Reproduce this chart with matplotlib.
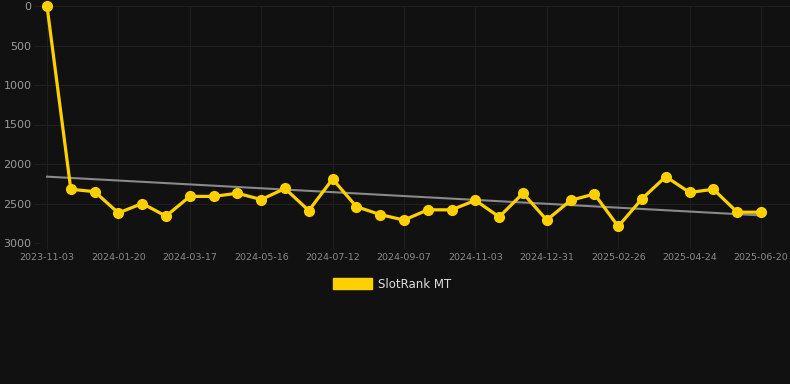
import numpy as np
import matplotlib
matplotlib.use("Agg")
import matplotlib.pyplot as plt

# rank values, one per snapshot (lower is better, axis reversed)
ranks = [0, 2320, 2350, 2620, 2500, 2660, 2410, 2410, 2370, 2450,
         2310, 2590, 2190, 2540, 2640, 2710, 2580, 2580, 2460, 2670,
         2370, 2710, 2460, 2380, 2790, 2440, 2160, 2360, 2320, 2610,
         2610]
tick_labels = ["2023-11-03", "2024-01-20", "2024-03-17", "2024-05-16",
               "2024-07-12", "2024-09-07", "2024-11-03", "2024-12-31",
               "2025-02-26", "2025-04-24", "2025-06-20"]
series_name = "SlotRank MT"

bg = "#111111"
yellow = "#ffd000"

x = np.arange(len(ranks))
coef = np.polyfit(x, ranks, 1)
trend = np.polyval(coef, x)

fig = plt.figure(figsize=(7.9, 3.84), dpi=100, facecolor=bg)
ax = fig.add_axes([40 / 790, 1 - 243 / 384, 750 / 790, 237 / 384])
ax.set_facecolor(bg)

ax.plot(x, trend, color="#8a8a8a", lw=1.5, zorder=2)
ax.plot(x, ranks, color=yellow, lw=2.3, marker="o", ms=7,
        clip_on=False, zorder=3, label=series_name)

ax.set_xlim(-7 / 23.8, 30 + 29 / 23.8)
ax.set_ylim(3000, 0)
ax.set_yticks([0, 500, 1000, 1500, 2000, 2500, 3000])
ax.set_xticks(x[::3])
ax.set_xticklabels(tick_labels)

ax.grid(True, color="#1f1f1f", lw=0.8)
for s in ax.spines.values():
    s.set_visible(False)
ax.tick_params(axis="y", colors="#9a9a9a", labelsize=8, length=4,
               color="#1f1f1f", pad=2)
ax.tick_params(axis="x", colors="#8a8a8a", labelsize=6.8, length=4,
               color="#1f1f1f", pad=3)

leg = fig.legend(handles=[plt.Rectangle((0, 0), 1, 1, color=yellow)],
                 labels=[series_name], loc="center",
                 bbox_to_anchor=(392 / 790, 1 - 284 / 384), frameon=False,
                 handlelength=3.3, handleheight=1.0, fontsize=8.5,
                 handletextpad=0.5)
for t in leg.get_texts():
    t.set_color("#dddddd")

fig.savefig("out.png", facecolor=bg)
